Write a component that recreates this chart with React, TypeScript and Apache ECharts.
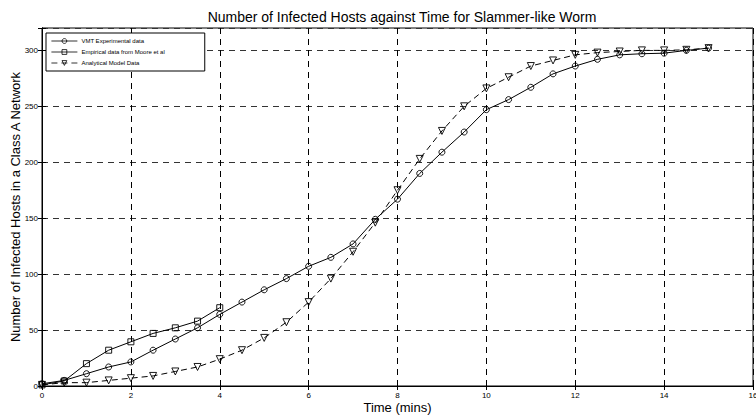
import React, { useEffect, useRef } from "react";
import * as echarts from "echarts";

const times = [0, 0.5, 1, 1.5, 2, 2.5, 3, 3.5, 4, 4.5, 5, 5.5, 6, 6.5, 7, 7.5, 8, 8.5, 9, 9.5, 10, 10.5, 11, 11.5, 12, 12.5, 13, 13.5, 14, 14.5, 15];
const vmtValues = [2, 5, 11, 17, 21.5, 32, 42, 52, 64, 75, 86, 96, 107, 115, 127, 149, 167, 190, 209, 227, 247, 256, 267, 279, 286, 292, 296, 297, 297.5, 300, 302];
const empiricalTimes = [0, 0.5, 1, 1.5, 2, 2.5, 3, 3.5, 4];
const empiricalValues = [1, 4.5, 20, 32, 39.5, 47, 52, 58, 70];
const analyticalValues = [1, 3, 3, 5, 7, 9, 13, 17, 24, 32, 43, 57, 75, 96, 120, 146, 175, 203, 228, 250, 266, 276, 286, 291, 296, 298, 299, 300, 300, 300.5, 302];
const seriesNames = ["VMT Experimental data", "Empirical data from Moore et al", "Analytical Model Data"];

const FONT = "'Liberation Sans', Arial, Helvetica, sans-serif";

export default function App() {
  const ref = useRef<HTMLDivElement>(null);
  useEffect(() => {
    if (!ref.current) return;
    const chart = echarts.init(ref.current, null, { renderer: "svg" });
    const pair = (xs: number[], ys: number[]) => xs.map((x, i) => [x, ys[i]]);
    const dash = [6, 5];
    const markerStyle = { color: "rgba(255,255,255,0)", borderColor: "#000", borderWidth: 0.9 };
    chart.setOption({
      animation: false,
      backgroundColor: "#fff",
      textStyle: { fontFamily: FONT, color: "#000" },
      title: {
        text: "Number of Infected Hosts against Time for Slammer-like Worm",
        left: 397,
        textAlign: "center",
        top: 5,
        textStyle: { fontFamily: FONT, fontSize: 14, fontWeight: "normal", color: "#000" },
      },
      legend: {
        left: 46,
        top: 33,
        orient: "vertical",
        backgroundColor: "#fff",
        borderColor: "#000",
        borderWidth: 1,
        borderRadius: 0,
        padding: [5, 40, 5, 5],
        itemGap: 5,
        itemWidth: 26,
        itemHeight: 6,
        itemStyle: { borderWidth: 0.8 },
        lineStyle: { width: 0.8 },
        textStyle: { fontFamily: FONT, fontSize: 6, color: "#000", padding: [0, 0, 0, -1] },
        data: seriesNames,
      },
      grid: {
        left: 42,
        right: 3,
        top: 28,
        bottom: 31,
        show: true,
        borderColor: "#000",
        borderWidth: 1,
        containLabel: false,
        outerBoundsMode: "none",
      },
      xAxis: [
        {
          type: "value",
          min: 0,
          max: 16,
          interval: 2,
          name: "Time (mins)",
          nameLocation: "middle",
          nameGap: 15,
          nameMoveOverlap: false,
          nameTextStyle: { fontFamily: FONT, fontSize: 13, color: "#000" },
          axisLine: { lineStyle: { color: "#000", width: 1 } },
          axisTick: { inside: true, length: 4, lineStyle: { color: "#000" } },
          axisLabel: { fontFamily: FONT, fontSize: 8, color: "#000", margin: 5 },
          splitLine: { show: true, lineStyle: { color: "#000", type: dash, width: 1 } },
        },
        {
          type: "value",
          min: 0,
          max: 16,
          interval: 2,
          position: "top",
          axisLine: { lineStyle: { color: "#000" } },
          axisTick: { inside: true, length: 4, lineStyle: { color: "#000" } },
          axisLabel: { show: false },
          splitLine: { show: false },
        },
      ],
      yAxis: [
        {
          type: "value",
          min: 0,
          max: 320,
          interval: 50,
          name: "Number of Infected Hosts in a Class A Network",
          nameLocation: "middle",
          nameGap: 20,
          nameMoveOverlap: false,
          nameTextStyle: { fontFamily: FONT, fontSize: 13, color: "#000" },
          axisLine: { show: true, lineStyle: { color: "#000", width: 1 } },
          axisTick: { show: true, inside: true, length: 4, lineStyle: { color: "#000" } },
          axisLabel: {
            fontFamily: FONT,
            fontSize: 8,
            color: "#000",
            margin: 4,
            formatter: (v: number) => (v % 50 === 0 ? String(v) : ""),
          },
          splitLine: { show: true, lineStyle: { color: "#333", type: dash, width: 1 } },
        },
        {
          type: "value",
          min: 0,
          max: 320,
          interval: 50,
          position: "right",
          axisLine: { show: true, lineStyle: { color: "#000" } },
          axisTick: { show: true, inside: true, length: 4, lineStyle: { color: "#000" } },
          axisLabel: { show: false },
          splitLine: { show: false },
        },
      ],
      series: [
        {
          name: seriesNames[0],
          type: "line",
          data: pair(times, vmtValues),
          symbol: "circle",
          symbolSize: 6,
          showAllSymbol: true,
          color: "#000",
          lineStyle: { color: "#000", width: 1 },
          itemStyle: markerStyle,
          z: 3,
        },
        {
          name: seriesNames[1],
          type: "line",
          data: pair(empiricalTimes, empiricalValues),
          symbol: "rect",
          symbolSize: 6,
          showAllSymbol: true,
          color: "#000",
          lineStyle: { color: "#000", width: 1 },
          itemStyle: markerStyle,
          z: 3,
        },
        {
          name: seriesNames[2],
          type: "line",
          data: pair(times, analyticalValues),
          symbol: "triangle",
          symbolRotate: 180,
          symbolSize: 7,
          showAllSymbol: true,
          color: "#000",
          lineStyle: { color: "#000", width: 1, type: [6, 4] },
          itemStyle: markerStyle,
          z: 3,
        },
      ],
    });
    return () => chart.dispose();
  }, []);
  return (
    <div
      ref={ref}
      style={{ position: "fixed", left: 0, top: 0, width: 756, height: 417, background: "#fff" }}
    />
  );
}
